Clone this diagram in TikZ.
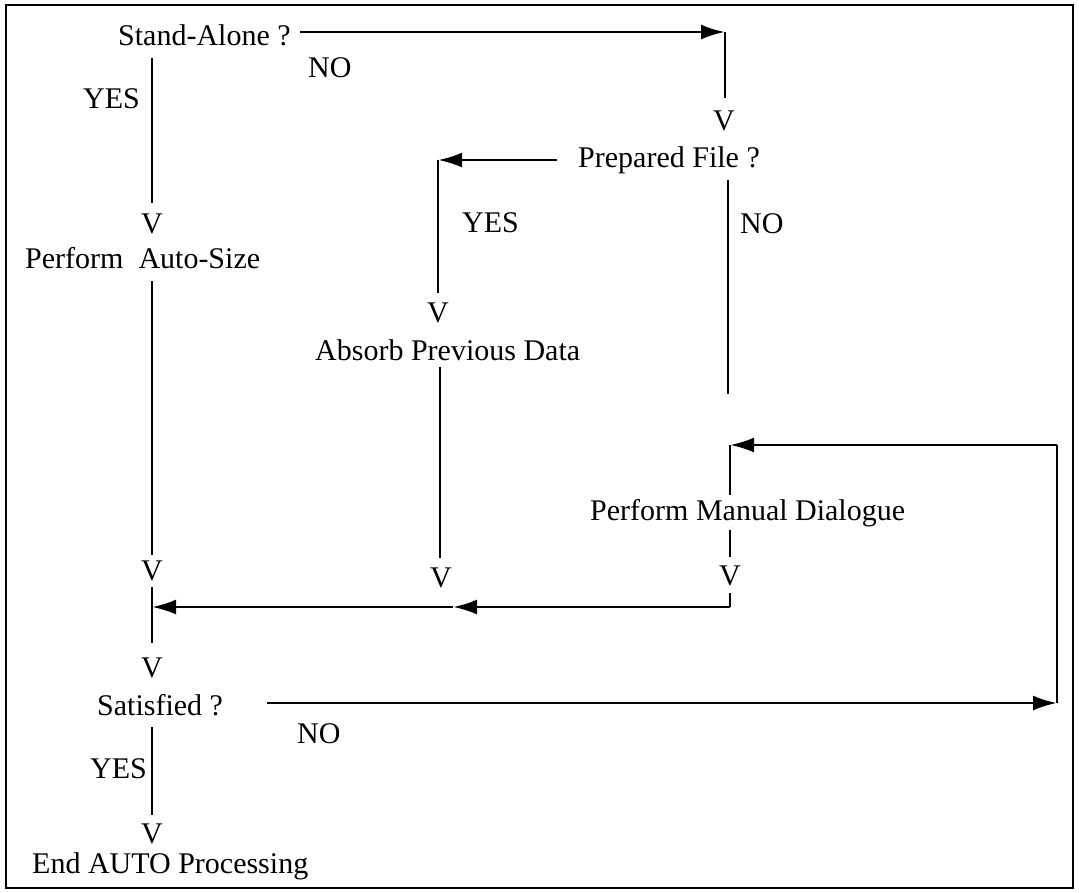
\documentclass[tikz,border=0pt]{standalone}
\usepackage{fontspec}
\setmainfont{Liberation Serif}
\usetikzlibrary{arrows.meta}
\tikzset{
  lbl/.style={inner sep=0pt, anchor=base west, font=\fontsize{30}{36}\selectfont},
  vee/.style={inner sep=0pt, anchor=base, font=\fontsize{30}{36}\selectfont},
  conn/.style={line width=2.8pt},
  arr/.style={line width=2.8pt, -{Latex[length=24pt,width=15pt]}},
  frame/.style={line width=2.8pt}
}
\begin{document}
\begin{tikzpicture}[x=1pt,y=-1pt]
\useasboundingbox (0,0) rectangle (1079,892);
\draw[frame] (6,5) rectangle (1073,888);

% texts
\node[lbl] (sa) at (118,45) {Stand-Alone ?};
\node[lbl] (no1) at (308,77) {NO};
\node[lbl] (yes1) at (83,108) {YES};
\node[vee] (v1) at (152,233) {V};
\node[lbl] (pas) at (25,268) {Perform~~Auto-Size};
\node[vee] (v2) at (724,130) {V};
\node[lbl] (pf) at (578,167) {Prepared File ?};
\node[lbl] (no2) at (740,233) {NO};
\node[lbl] (yes2) at (462,232) {YES};
\node[vee] (v3) at (438,322) {V};
\node[lbl] (apd) at (315,360) {Absorb Previous Data};
\node[lbl] (pmd) at (590,520) {Perform Manual Dialogue};
\node[vee] (v4) at (730,585) {V};
\node[vee] (v5) at (441,587) {V};
\node[vee] (v6) at (152,580) {V};
\node[vee] (v7) at (152,677) {V};
\node[lbl] (sat) at (97,715) {Satisfied ?};
\node[lbl] (no3) at (297,743) {NO};
\node[lbl] (yes3) at (90,778) {YES};
\node[vee] (v8) at (152,843) {V};
\node[lbl] (end) at (32,873) {End AUTO Processing};

% coordinates
\coordinate (saR) at (300,32);
\coordinate (c1) at (725,32);
\coordinate (v2T) at (725,98);
\coordinate (saB) at (152,58);
\coordinate (v1T) at (152,203);
\coordinate (pasB) at (152,281);
\coordinate (v6T) at (152,555);
\coordinate (pfL) at (557,160);
\coordinate (c2) at (438,160);
\coordinate (v3T) at (438,293);
\coordinate (apdB) at (440,367);
\coordinate (v5T) at (440,558);
\coordinate (pfB) at (728,180);
\coordinate (pfE) at (728,394);
\coordinate (satR) at (267,703);
\coordinate (c3) at (1057,703);
\coordinate (c4) at (1057,445);
\coordinate (c5) at (730,445);
\coordinate (pmdT) at (730,495);
\coordinate (pmdB) at (730,530);
\coordinate (v4T) at (730,557);
\coordinate (v4B) at (730,593);
\coordinate (c6) at (730,607);
\coordinate (m1) at (453,607);
\coordinate (j1) at (152,607);
\coordinate (v6B) at (152,587);
\coordinate (v7T) at (152,643);
\coordinate (satB) at (152,727);
\coordinate (v8T) at (152,815);

% connectors
\draw[arr] (saR) -- (c1);
\draw[conn] (c1) -- (v2T);
\draw[conn] (saB) -- (v1T);
\draw[conn] (pasB) -- (v6T);
\draw[arr] (pfL) -- (c2);
\draw[conn] (c2) -- (v3T);
\draw[conn] (apdB) -- (v5T);
\draw[conn] (pfB) -- (pfE);
\draw[arr] (satR) -- (c3);
\draw[conn] (c3) -- (c4);
\draw[arr] (c4) -- (c5);
\draw[conn] (c5) -- (pmdT);
\draw[conn] (pmdB) -- (v4T);
\draw[conn] (v4B) -- (c6);
\draw[arr] (c6) -- (m1);
\draw[arr] (m1) -- (j1);
\draw[conn] (v6B) -- (v7T);
\draw[conn] (satB) -- (v8T);
\end{tikzpicture}
\end{document}
